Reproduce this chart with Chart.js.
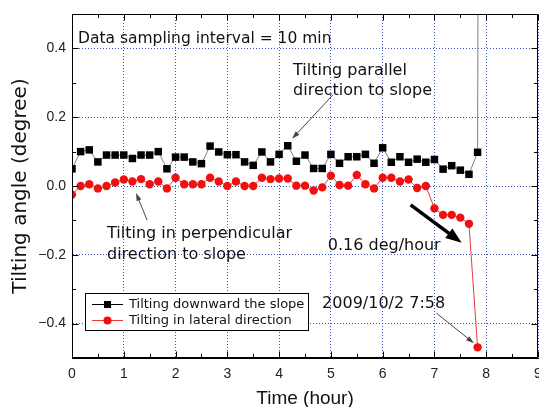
<!DOCTYPE html>
<html><head><meta charset="utf-8">
<script src="https://cdn.jsdelivr.net/npm/chart.js@4/dist/chart.umd.min.js"></script>
<style>html,body{margin:0;padding:0;background:#fff;}#wrap{width:539px;height:407px;}</style>
</head><body><div id="wrap"><canvas id="c" width="539" height="407"></canvas></div>
<script>
// Time of each sample (minutes from start, 10-min sampling)
const timeMin = [0,10,20,30,40,50,60,70,80,90,100,110,120,130,140,150,160,170,180,190,200,210,220,230,
  240,250,260,270,280,290,300,310,320,330,340,350,360,370,380,390,400,410,420,430,440,450,460,470,480];
// Tilting downward the slope (degree); last sample is off-scale
const downSlope = [0.050,0.100,0.105,0.070,0.090,0.090,0.090,0.080,0.090,0.090,0.100,0.050,
  0.084,0.084,0.070,0.065,0.116,0.099,0.091,0.091,0.070,0.060,0.099,0.070,
  0.092,0.117,0.072,0.090,0.051,0.051,0.092,0.066,0.085,0.085,0.092,0.066,
  0.111,0.069,0.085,0.069,0.078,0.069,0.077,0.049,0.059,0.046,0.034,0.098,
  10.0];
// Tilting in lateral direction (degree)
const lateral = [-0.025,0.000,0.005,-0.007,0.000,0.010,0.019,0.013,0.020,0.005,0.013,-0.007,
  0.024,0.005,0.005,0.005,0.024,0.013,0.000,0.013,0.000,0.000,0.024,0.020,
  0.022,0.022,0.001,0.001,-0.013,-0.004,0.030,0.003,0.001,0.032,0.005,-0.007,
  0.024,0.024,0.013,0.019,-0.006,0.000,-0.065,-0.084,-0.084,-0.092,-0.110,-0.469,
  null];
const seriesNames = ['Tilting downward the slope','Tilting in lateral direction'];
const xTickLabels = [0,1,2,3,4,5,6,7,8,9];
const yTickLabels = [-0.4,-0.2,0.0,0.2,0.4];

const notes = [
  {text:'Data sampling interval = 10 min', x:0.116, y:0.416, size:15.5},
  {text:'Tilting parallel', x:4.27, y:0.323, size:16},
  {text:'direction to slope', x:4.27, y:0.265, size:16},
  {text:'Tilting in perpendicular', x:0.676, y:-0.151, size:16},
  {text:'direction to slope', x:0.676, y:-0.212, size:16},
  {text:'0.16 deg/hour', x:4.94, y:-0.186, size:16},
  {text:'2009/10/2 7:58', x:4.83, y:-0.355, size:16}
];
const arrows = [
  {from:[5.04,0.265], to:[4.25,0.137], w:1, hl:8, hw:5, color:'#444'},
  {from:[1.45,-0.099], to:[1.236,-0.020], w:1, hl:8, hw:5, color:'#444'},
  {from:[6.54,-0.055], to:[7.526,-0.165], w:3.5, hl:16, hw:12, color:'#000'},
  {from:[7.04,-0.370], to:[7.764,-0.457], w:1, hl:8, hw:5, color:'#444'}
];

const toData = arr => timeMin.map((m,i)=>({x:m/60, y:arr[i]}));

const framePlugin = {
  id:'frame',
  afterDraw(chart){
    const {ctx, chartArea:a, scales:{x,y}} = chart;
    ctx.save();
    ctx.strokeStyle='#000'; ctx.lineWidth=1;
    const L=Math.round(a.left)+0.5, R=Math.round(a.right)-0.5, T=Math.round(a.top)+0.5, B=Math.round(a.bottom)-0.5;
    ctx.beginPath();
    ctx.moveTo(L,T); ctx.lineTo(R,T); ctx.lineTo(R,B); ctx.lineTo(L,B); ctx.closePath();
    ctx.stroke();
    ctx.beginPath();
    for(let k=0;k<=18;k++){
      const px=Math.round(x.getPixelForValue(k/2))+0.5;
      const len = k%2===0?6:3.5;
      ctx.moveTo(px,B); ctx.lineTo(px,B-len);
      ctx.moveTo(px,T); ctx.lineTo(px,T+len);
    }
    for(let k=-4;k<=4;k++){
      const py=Math.round(y.getPixelForValue(k/10))+0.5;
      const len = k%2===0?6:3.5;
      ctx.moveTo(L,py); ctx.lineTo(L+len,py);
      ctx.moveTo(R,py); ctx.lineTo(R-len,py);
    }
    ctx.stroke();
    // clipped last x label
    ctx.fillStyle='#222'; ctx.font='14px "Liberation Sans", Arial, sans-serif';
    ctx.textAlign='center'; ctx.textBaseline='middle';
    ctx.fillText('9', x.getPixelForValue(9), a.bottom+16);
    ctx.restore();
  }
};

const notesPlugin = {
  id:'notes',
  afterDatasetsDraw(chart){
    const {ctx, chartArea:a, scales:{x,y}} = chart;
    ctx.save();
    ctx.fillStyle='#111';
    ctx.textAlign='left'; ctx.textBaseline='alphabetic';
    notes.forEach(n=>{
      ctx.font=n.size+'px "DejaVu Sans", sans-serif';
      ctx.fillText(n.text, x.getPixelForValue(n.x), y.getPixelForValue(n.y));
    });
    arrows.forEach(ar=>{
      const x1=x.getPixelForValue(ar.from[0]), y1=y.getPixelForValue(ar.from[1]);
      const x2=x.getPixelForValue(ar.to[0]), y2=y.getPixelForValue(ar.to[1]);
      const ang=Math.atan2(y2-y1,x2-x1);
      const bx=x2-ar.hl*Math.cos(ang), by=y2-ar.hl*Math.sin(ang);
      ctx.strokeStyle=ar.color; ctx.fillStyle=ar.color; ctx.lineWidth=ar.w;
      ctx.beginPath(); ctx.moveTo(x1,y1); ctx.lineTo(bx+(ar.hl*0.2)*Math.cos(ang), by+(ar.hl*0.2)*Math.sin(ang)); ctx.stroke();
      ctx.beginPath();
      ctx.moveTo(x2,y2);
      ctx.lineTo(bx+ar.hw/2*Math.sin(ang), by-ar.hw/2*Math.cos(ang));
      ctx.lineTo(bx-ar.hw/2*Math.sin(ang), by+ar.hw/2*Math.cos(ang));
      ctx.closePath(); ctx.fill();
    });
    // legend box
    const lx=a.left+13, ly=a.bottom-65, lw=223, lh=37;
    ctx.fillStyle='#fff'; ctx.fillRect(lx,ly,lw,lh);
    ctx.strokeStyle='#000'; ctx.lineWidth=1;
    ctx.strokeRect(Math.round(lx)+0.5, Math.round(ly)+0.5, lw, lh);
    ctx.font='13px "DejaVu Sans", sans-serif';
    ctx.textBaseline='middle';
    chart.data.datasets.forEach((ds,i)=>{
      const cy=ly+11+i*16;
      ctx.strokeStyle = i===0?'#000':ds.borderColor; ctx.lineWidth=1;
      ctx.beginPath(); ctx.moveTo(lx+7,cy+0.5); ctx.lineTo(lx+38,cy+0.5); ctx.stroke();
      ctx.fillStyle=ds.pointBackgroundColor;
      if(ds.pointStyle==='rect'){ ctx.fillRect(lx+22.5-3.5,cy-3,7,7); }
      else { ctx.beginPath(); ctx.arc(lx+22.5,cy+0.5,4,0,Math.PI*2); ctx.fill(); }
      ctx.fillStyle='#111';
      ctx.fillText(ds.label, lx+44, cy+1);
    });
    ctx.restore();
  }
};

const gridColor='#3a55c0';
new Chart(document.getElementById('c'), {
  type:'line',
  data:{datasets:[
    {label:seriesNames[0], data:toData(downSlope), borderColor:'#808080', borderWidth:1,
     pointStyle:'rect', pointRadius:5.3, pointBackgroundColor:'#000', pointBorderColor:'#000', pointBorderWidth:0, tension:0},
    {label:seriesNames[1], data:toData(lateral), borderColor:'#ee3838', borderWidth:1,
     pointStyle:'circle', pointRadius:4.2, pointBackgroundColor:'#f01010', pointBorderColor:'#f01010', pointBorderWidth:0, tension:0}
  ]},
  options:{
    responsive:false, animation:false, devicePixelRatio:1,
    layout:{autoPadding:false, padding:{left:0,right:1,top:14,bottom:0}},
    plugins:{legend:{display:false}, tooltip:{enabled:false}},
    scales:{
      x:{type:'linear', min:0, max:9,
        afterBuildTicks:s=>{s.ticks=xTickLabels.map(v=>({value:v}));},
        afterFit:s=>{s.height=49; s.paddingRight=0; s.paddingLeft=0;},
        ticks:{autoSkip:false, maxRotation:0, padding:8, color:'#222',
          font:{family:'"Liberation Sans", Arial, sans-serif', size:14},
          callback:v=> v===9?'':String(v)},
        grid:{color:gridColor, lineWidth:1, drawTicks:false},
        border:{display:true, color:'#000', width:1, dash:[1,2]},
        title:{display:true, text:'Time (hour)', color:'#111',
          font:{family:'"Liberation Sans", Arial, sans-serif', size:19, lineHeight:0.9}, padding:{top:0,bottom:0}}
      },
      y:{type:'linear', min:-0.5, max:0.5,
        afterBuildTicks:s=>{s.ticks=yTickLabels.map(v=>({value:v}));},
        afterFit:s=>{s.width=72; s.paddingTop=0; s.paddingBottom=0;},
        ticks:{padding:6, color:'#222',
          font:{family:'"Liberation Sans", Arial, sans-serif', size:14},
          callback:v=>Number(v).toFixed(1).replace('-','\u2212')},
        grid:{color:gridColor, lineWidth:1, drawTicks:false},
        border:{display:true, color:'#000', width:1, dash:[1,2]},
        title:{display:true, text:'Tilting angle (degree)', color:'#111',
          font:{family:'"DejaVu Sans", sans-serif', size:20}, padding:{top:8.6,bottom:0}}
      }
    }
  },
  plugins:[framePlugin, notesPlugin]
});
</script>
</body></html>
